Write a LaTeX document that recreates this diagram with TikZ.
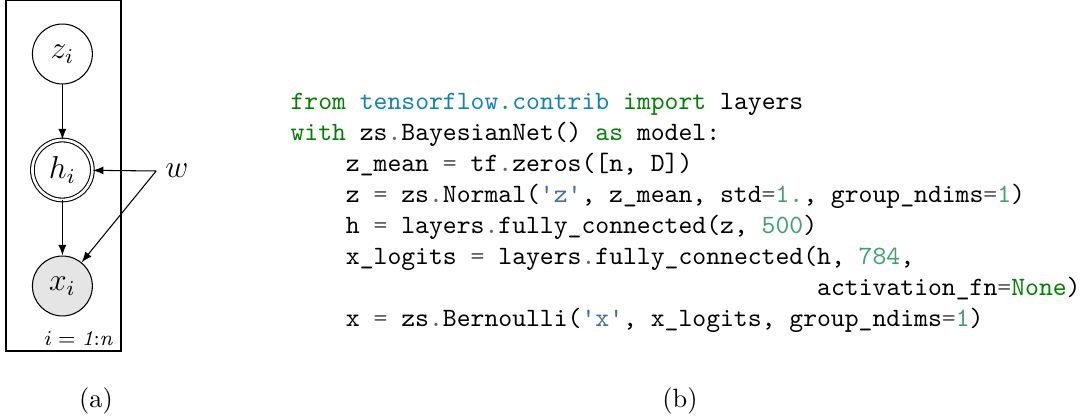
\documentclass[tikz,border=0pt]{standalone}
\usepackage{fontspec}
\usetikzlibrary{arrows}

\definecolor{kwgreen}{HTML}{008000}
\definecolor{modblue}{HTML}{0E84B5}
\definecolor{strblue}{HTML}{4070A0}
\definecolor{numgreen}{HTML}{40A070}
\definecolor{opgray}{HTML}{666666}
\newcommand{\kw}[1]{\textcolor{kwgreen}{#1}}
\newcommand{\mo}[1]{\textcolor{modblue}{#1}}
\newcommand{\st}[1]{\textcolor{strblue}{#1}}
\newcommand{\nm}[1]{\textcolor{numgreen}{#1}}
\newcommand{\op}[1]{\textcolor{opgray}{#1}}

\begin{document}
\begin{tikzpicture}
	  [x=0.3788pt,y=-0.3788pt,>=latex,
	   latent/.style={circle,draw,minimum size=22.7pt,inner sep=0pt,font=\large},
	   obs/.style={latent,fill=gray!20},
	   det/.style={latent,double,double distance=1pt},
	   codeline/.style={anchor=base west,inner sep=0pt,font=\ttfamily}]
	\useasboundingbox (0,0) rectangle (1088,419);

	% plate
	\draw (6,0.6) rectangle (121,351);
	\node[anchor=base east,inner sep=0pt,font=\footnotesize] (plate) at (113,346) {$i = \mathit{1{:}n}$};

	\node[latent] (z) at (62.4,54)  {$z_i$};
	\node[det]    (h) at (62.4,170) {$h_i$};
	\node[obs]    (x) at (62.4,286) {$x_i$};
	\node[font=\large] (w) at (177,171) {$w$};

	\foreach \from/\to in {z/h,h/x,w.west/h,w.west/x}
	  \draw[->] (\from) -- (\to);

	% code
	\node[codeline] (l1) at (290,110)   {\kw{from} \mo{tensorflow.contrib} \kw{import} layers};
	\node[codeline] (l2) at (290,141)   {\kw{with} zs\op{.}BayesianNet() \kw{as} model:};
	\node[codeline] (l3) at (345.4,172) {z\_mean \op{=} tf\op{.}zeros([n, D])};
	\node[codeline] (l4) at (345.4,203) {z \op{=} zs\op{.}Normal(\st{'z'}, z\_mean, std\op{=}\nm{1.}, group\_ndims\op{=}\nm{1})};
	\node[codeline] (l5) at (345.4,234) {h \op{=} layers\op{.}fully\_connected(z, \nm{500})};
	\node[codeline] (l6) at (345.4,265) {x\_logits \op{=} layers\op{.}fully\_connected(h, \nm{784},};
	\node[codeline] (l7) at (816.7,296) {activation\_fn\op{=}\kw{None})};
	\node[codeline] (l8) at (345.4,327) {x \op{=} zs\op{.}Bernoulli(\st{'x'}, x\_logits, group\_ndims\op{=}\nm{1})};

	\node (capa) at (96,401)  {(a)};
	\node (capb) at (680,401) {(b)};
	\end{tikzpicture}
\end{document}
